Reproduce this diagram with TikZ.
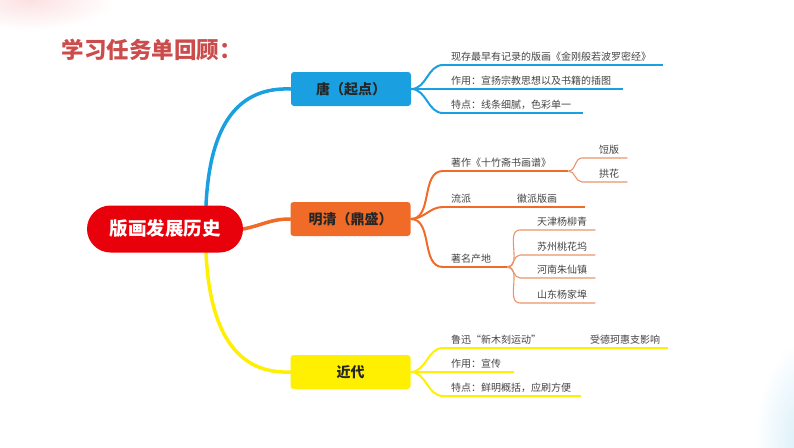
\documentclass[tikz,border=0pt]{standalone}
\usepackage{fontspec}
\setmainfont{Noto Sans CJK SC}
\usepackage{tikz}
\usetikzlibrary{backgrounds}
\definecolor{MapRed}{HTML}{E8000B}
\definecolor{MapBlue}{HTML}{1AA0E0}
\definecolor{MapOrange}{HTML}{F06A28}
\definecolor{MapPeach}{HTML}{E99468}
\definecolor{MapYellow}{HTML}{FFEF00}
\definecolor{MapText}{HTML}{444444}
\definecolor{MapTitle}{HTML}{CC4C4C}

\begin{document}
\begin{tikzpicture}[x=1pt, y=-1pt,
  root/.style={fill=MapRed, rounded corners=23.5pt, minimum width=156pt, minimum height=47pt,
               text=white, font=\fontsize{18.5}{20}\selectfont\bfseries},
  era/.style={rounded corners=3pt, minimum width=120pt, minimum height=34pt,
              text=black!85, font=\fontsize{14}{16}\selectfont\bfseries},
  leaf/.style={anchor=south west, inner xsep=8pt, inner ysep=3.5pt, align=left,
               font=\fontsize{10}{12}\selectfont, text=MapText},
  leafr/.style={leaf, align=right},
  trunk/.style={line width=3.5pt, line cap=round},
  twig/.style={line width=2pt},
  rule/.style={line width=1.1pt}]
\useasboundingbox (0,0) rectangle (794,447);

% soft corner glows
\begin{scope}[on background layer]
  \clip (0,0) rectangle (794,447);
  \shade[inner color=MapRed!12, outer color=white] (30,0) ellipse (85 and 30);
  \shade[inner color=MapBlue!18, outer color=white] (805,440) ellipse (50 and 100);
\end{scope}

\node[anchor=west, text=MapTitle, font=\fontsize{22.5}{24}\selectfont\bfseries] (title) at (58,50) {学习任务单回顾：};

\node[root] (root) at (165,229) {版画发展历史};
\node[era, fill=MapBlue] (tang) at (351,89) {唐（起点）};
\node[era, fill=MapOrange] (ming) at (350.5,219) {明清（鼎盛）};
\node[era, fill=MapYellow] (jin) at (350.5,372) {近代};

% Tang
\node[leaf, text width=204pt] (t1) at (443,65) {现存最早有记录的版画《金刚般若波罗密经》};
\node[leaf, text width=164pt] (t2) at (443,89) {作用：宣扬宗教思想以及书籍的插图};
\node[leaf, text width=124pt] (t3) at (443,113) {特点：线条细腻，色彩单一};

% Ming-Qing
\node[leaf, text width=109pt] (m1) at (443,171) {著作《十竹斋书画谱》};
\node[leafr, text width=29pt] (m1a) at (582,158) {饾版};
\node[leafr, text width=29pt] (m1b) at (582,182) {拱花};
\node[leaf, text width=126pt] (m2) at (443,207) {流派\hspace{46pt}徽派版画};
\node[leaf, text width=48pt] (m3) at (443,267) {著名产地};
\node[leafr, text width=59pt] (m3a) at (520,230) {天津杨柳青};
\node[leafr, text width=59pt] (m3b) at (520,255) {苏州桃花坞};
\node[leafr, text width=59pt] (m3c) at (520,278) {河南朱仙镇};
\node[leafr, text width=59pt] (m3d) at (520,303) {山东杨家埠};

% modern
\node[leaf, text width=209pt] (j1) at (443,348) {鲁迅“新木刻运动”\hfill 受德珂惠支影响};
\node[leaf, text width=55pt] (j2) at (443,372) {作用：宣传};
\node[leaf, text width=122pt] (j3) at (443,396) {特点：鲜明概括，应刷方便};

\begin{scope}[on background layer]
  \draw[trunk, MapBlue] ([xshift=41pt]root.north) .. controls +(4,-85) and +(-50,-2) .. (tang.west);
  \draw[trunk, MapOrange] (root.east) .. controls +(20,-4) and +(-20,0) .. (ming.west);
  \draw[trunk, MapYellow] ([xshift=41pt]root.south) .. controls +(4,85) and +(-50,2) .. (jin.west);

  \foreach \n in {t1,t2,t3} {
    \draw[twig, MapBlue] (tang.east) to[out=0, in=180] (\n.south west);
    \draw[rule, MapBlue] (\n.south west) -- (\n.south east);
  }
  \foreach \n in {m1,m2,m3} {
    \draw[twig, MapOrange] (ming.east) to[out=0, in=180] (\n.south west);
    \draw[rule, MapOrange] (\n.south west) -- (\n.south east);
  }
  \foreach \n in {m1a,m1b} {
    \draw[rule, MapPeach] (m1.south east) to[out=0, in=180] (\n.south west) -- (\n.south east);
  }
  \foreach \n in {m3a,m3b,m3c,m3d} {
    \draw[rule, MapPeach] (m3.south east) to[out=0, in=180] (\n.south west) -- (\n.south east);
  }
  \foreach \n in {j1,j2,j3} {
    \draw[twig, MapYellow] (jin.east) to[out=0, in=180] (\n.south west);
    \draw[rule, MapYellow] (\n.south west) -- (\n.south east);
  }
\end{scope}
\end{tikzpicture}
\end{document}
